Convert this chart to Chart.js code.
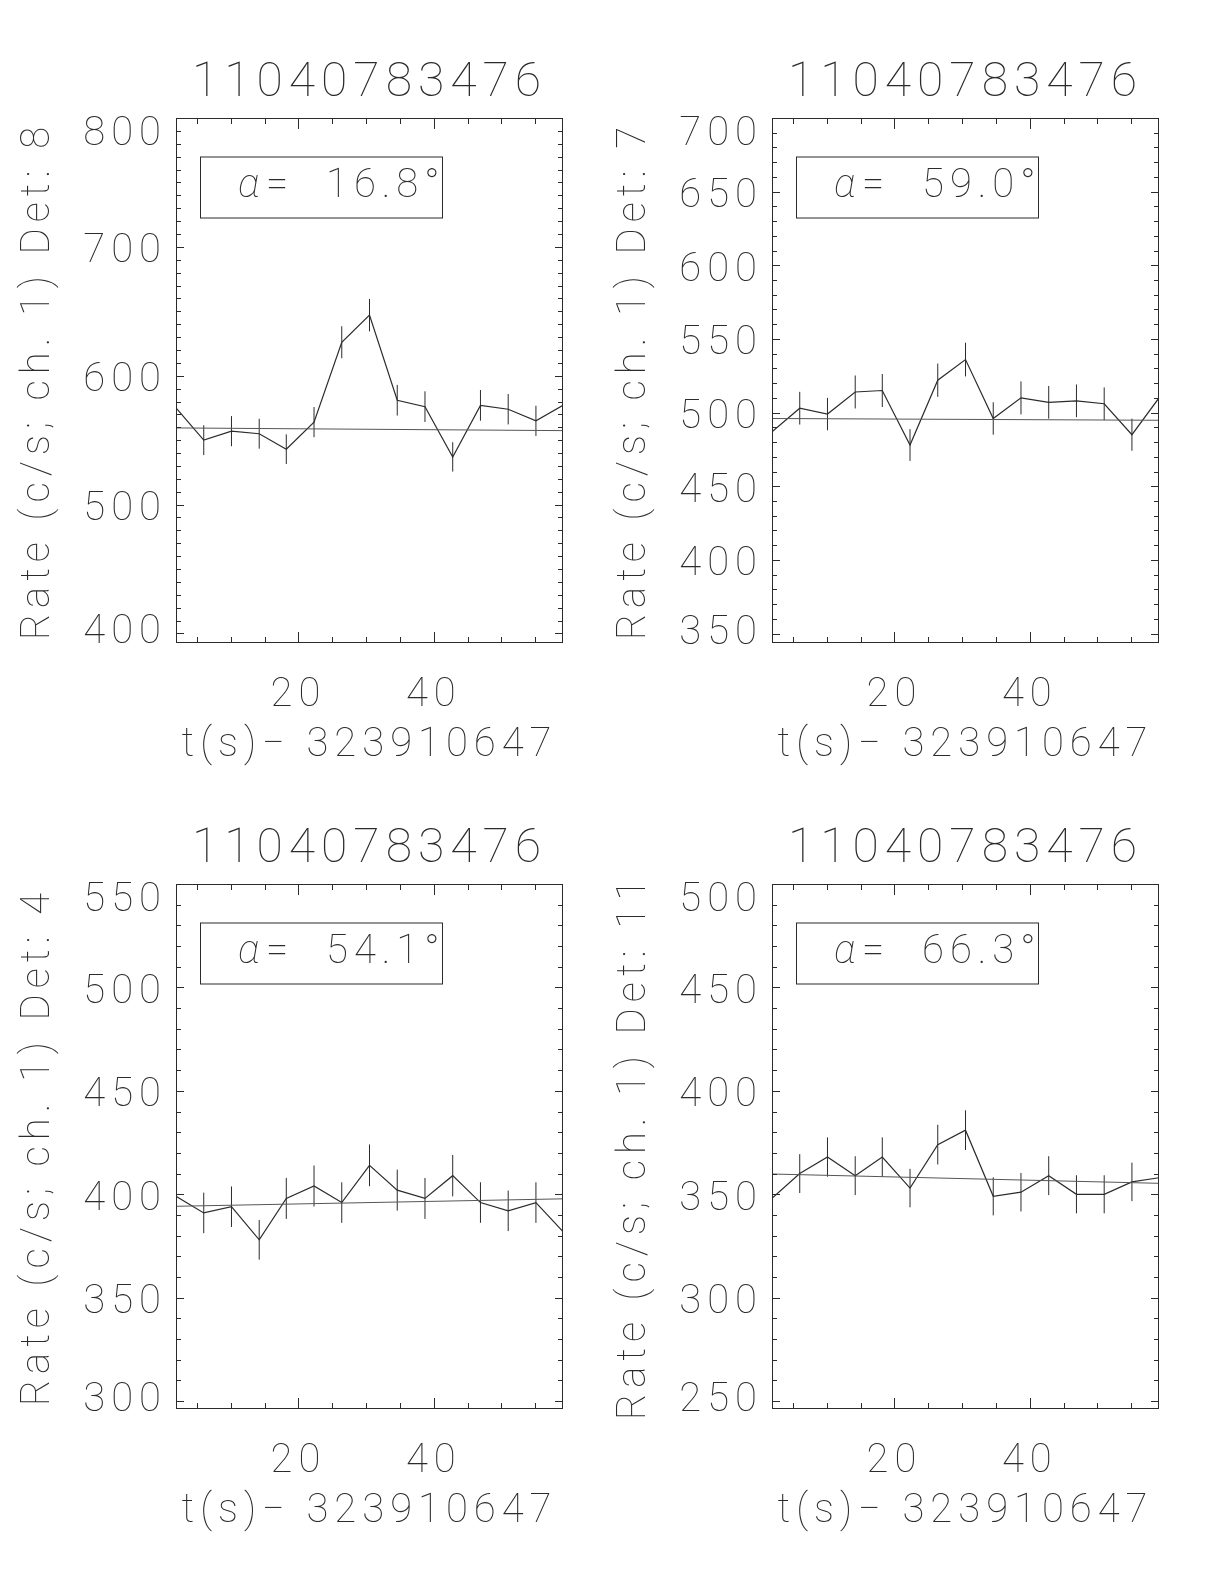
<!DOCTYPE html>
<html>
<head>
<meta charset="utf-8">
<script src="https://cdn.jsdelivr.net/npm/chart.js@4.4.1/dist/chart.umd.min.js"></script>
<style>
  html, body { margin: 0; padding: 0; background: #fff; }
  #page { position: relative; width: 1224px; height: 1584px; overflow: hidden; background: #fff; }
  #page canvas { position: absolute; }
</style>
</head>
<body>
<div id="page">
  <canvas id="det8" width="612" height="792" style="left:0px;top:0px"></canvas>
  <canvas id="det7" width="612" height="792" style="left:596px;top:0px"></canvas>
  <canvas id="det4" width="612" height="792" style="left:0px;top:766px"></canvas>
  <canvas id="det11" width="612" height="792" style="left:596px;top:766px"></canvas>
</div>
<script>
// light curves, 4.096 s bins, t - 323910647
const times = [1.9, 6.0, 10.1, 14.2, 18.2, 22.3, 26.4, 30.5, 34.6, 38.7, 42.8, 46.9, 51.0, 55.1, 59.1];
const xTicks = [20, 40];

const det8Rate = [575, 550, 557, 555, 543, 564, 626, 647, 581, 576, 537, 577, 574, 565, 577];
const det8Err  = [11.8, 11.6, 11.7, 11.6, 11.5, 11.7, 12.4, 12.6, 11.9, 11.9, 11.4, 11.9, 11.8, 11.7, 11.9];
const det8Fit  = [559.5, 557.4];
const det8Ticks = [400, 500, 600, 700, 800];

const det7Rate = [487, 503, 499, 514, 515, 478, 522, 536, 496, 510, 507, 508, 506, 485, 510];
const det7Err  = [10.9, 11.1, 11.0, 11.2, 11.2, 10.8, 11.3, 11.4, 11.0, 11.2, 11.1, 11.1, 11.1, 10.9, 11.2];
const det7Fit  = [496.0, 494.8];
const det7Ticks = [350, 400, 450, 500, 550, 600, 650, 700];

const det4Rate = [399, 391, 394, 378, 398, 404, 396, 414, 402, 398, 409, 396, 392, 396, 382];
const det4Err  = [9.9, 9.8, 9.8, 9.6, 9.9, 9.9, 9.8, 10.1, 9.9, 9.9, 10.0, 9.8, 9.8, 9.8, 9.7];
const det4Fit  = [394.2, 397.8];
const det4Ticks = [300, 350, 400, 450, 500, 550];

const det11Rate = [348, 360, 368, 359, 368, 353, 374, 381, 349, 351, 359, 350, 350, 356, 358];
const det11Err  = [9.2, 9.4, 9.5, 9.4, 9.5, 9.3, 9.6, 9.6, 9.2, 9.3, 9.4, 9.2, 9.2, 9.3, 9.4];
const det11Fit  = [359.8, 355.3];
const det11Ticks = [250, 300, 350, 400, 450, 500];

const alphas = ['16.8', '59.0', '54.1', '66.3'];
const burstId = '11040783476';

const INK = '#2b2b2b';
const FONT = 'Roboto';

// IDL-style box with inward ticks on all four sides, plus the angle label
const idlFrame = {
  id: 'idlFrame',
  beforeDraw(chart) {
    // hershey-like wide spacing for all the text
    chart.ctx.letterSpacing = '6px';
  },
  afterDatasetsDraw(chart, args, opts) {
    const { ctx, chartArea: a, scales: { x, y } } = chart;
    ctx.save();
    ctx.strokeStyle = INK;
    ctx.lineWidth = 1;
    ctx.strokeRect(a.left + 0.5, a.top + 0.5, a.width - 1, a.height - 1);
    ctx.beginPath();
    for (let v = 5; v < x.max; v += 5) {
      const px = Math.round(x.getPixelForValue(v)) + 0.5;
      const len = xTicks.includes(v) ? 11 : 6;
      ctx.moveTo(px, a.bottom); ctx.lineTo(px, a.bottom - len);
      ctx.moveTo(px, a.top); ctx.lineTo(px, a.top + len);
    }
    for (let v = Math.ceil(y.min / 10) * 10; v <= y.max; v += 10) {
      const py = Math.round(y.getPixelForValue(v)) + 0.5;
      const len = opts.major.includes(v) ? 8 : 5;
      ctx.moveTo(a.left, py); ctx.lineTo(a.left + len, py);
      ctx.moveTo(a.right, py); ctx.lineTo(a.right - len, py);
    }
    ctx.stroke();

    // angle box
    const bx = a.left + 24, by = a.top + 38.5, bw = 242, bh = 61;
    ctx.strokeRect(bx + 0.5, by + 0.5, bw, bh);
    ctx.fillStyle = INK;
    ctx.textBaseline = 'middle';
    ctx.textAlign = 'left';
    ctx.font = 'italic 100 40px ' + FONT;
    ctx.fillText('\u03b1', bx + 38, by + bh / 2);
    ctx.font = '100 40px ' + FONT;
    ctx.fillText('=', bx + 66, by + bh / 2);
    ctx.fillText(opts.alpha + '\u00b0', bx + 126, by + bh / 2);
    ctx.restore();
  }
};

// labels sit a little below their tick, the top one pushed inside the frame
function yLabel(v, i, ticks) {
  const s = String(v);
  if (i === 0) return s;
  if (i === ticks.length - 1) return ['', '', '', s];
  return ['', s];
}

function drawPanel(id, det, rate, err, fit, yTicks, yMin, yMax, alpha) {
  const linePts = times.map((t, i) => ({ x: t, y: rate[i] }));
  const barPts = [];
  times.forEach((t, i) => {
    barPts.push({ x: t, y: rate[i] - err[i] }, { x: t, y: rate[i] + err[i] }, { x: t, y: null });
  });
  const fitPts = [{ x: times[0], y: fit[0] }, { x: times[times.length - 1], y: fit[1] }];
  const textFont = { family: FONT, size: 40, weight: 100, lineHeight: 1.2 };
  const yTickFont = { family: FONT, size: 40, weight: 100, lineHeight: 0.275 };

  new Chart(document.getElementById(id), {
    type: 'line',
    data: {
      datasets: [
        { data: fitPts, borderColor: '#555', borderWidth: 1, pointRadius: 0 },
        { data: linePts, borderColor: INK, borderWidth: 1.2, pointRadius: 0 },
        { data: barPts, borderColor: INK, borderWidth: 1, pointRadius: 0, spanGaps: false }
      ]
    },
    options: {
      responsive: false,
      animation: false,
      events: [],
      layout: { padding: { left: 0, right: 49, top: 0, bottom: 0 } },
      plugins: {
        legend: { display: false },
        tooltip: { enabled: false },
        title: {
          display: true,
          fullSize: false,
          text: burstId,
          color: INK,
          font: { family: FONT, size: 48, weight: 100, lineHeight: 1 },
          padding: { top: 60, bottom: 10 }
        },
        idlFrame: { alpha: alpha, major: yTicks }
      },
      scales: {
        x: {
          type: 'linear',
          min: times[0],
          max: times[times.length - 1],
          afterFit: s => { s.height = 149; },
          afterBuildTicks: s => { s.ticks = xTicks.map(v => ({ value: v })); },
          grid: { display: false, drawTicks: false },
          border: { display: false },
          ticks: { color: INK, font: textFont, padding: 29, autoSkip: false, maxRotation: 0 },
          title: {
            display: true,
            text: 't(s)\u2212 323910647',
            color: INK,
            font: textFont,
            padding: { top: 0, bottom: 22 }
          }
        },
        y: {
          type: 'linear',
          min: yMin,
          max: yMax,
          afterFit: s => { s.width = 176; },
          afterBuildTicks: s => { s.ticks = yTicks.map(v => ({ value: v })); },
          grid: { display: false, drawTicks: false },
          border: { display: false },
          ticks: { color: INK, font: yTickFont, padding: 9, autoSkip: false, callback: yLabel },
          title: {
            display: true,
            text: 'Rate (c/s; ch. 1) Det: ' + det,
            color: INK,
            font: textFont,
            padding: { top: 15, bottom: 0 }
          }
        }
      }
    },
    plugins: [idlFrame]
  });
}

drawPanel('det8', 8, det8Rate, det8Err, det8Fit, det8Ticks, 392.6, 800, alphas[0]);
drawPanel('det7', 7, det7Rate, det7Err, det7Fit, det7Ticks, 343.6, 700, alphas[1]);
drawPanel('det4', 4, det4Rate, det4Err, det4Fit, det4Ticks, 296.2, 550, alphas[2]);
drawPanel('det11', 11, det11Rate, det11Err, det11Fit, det11Ticks, 246.2, 500, alphas[3]);
</script>
</body>
</html>
